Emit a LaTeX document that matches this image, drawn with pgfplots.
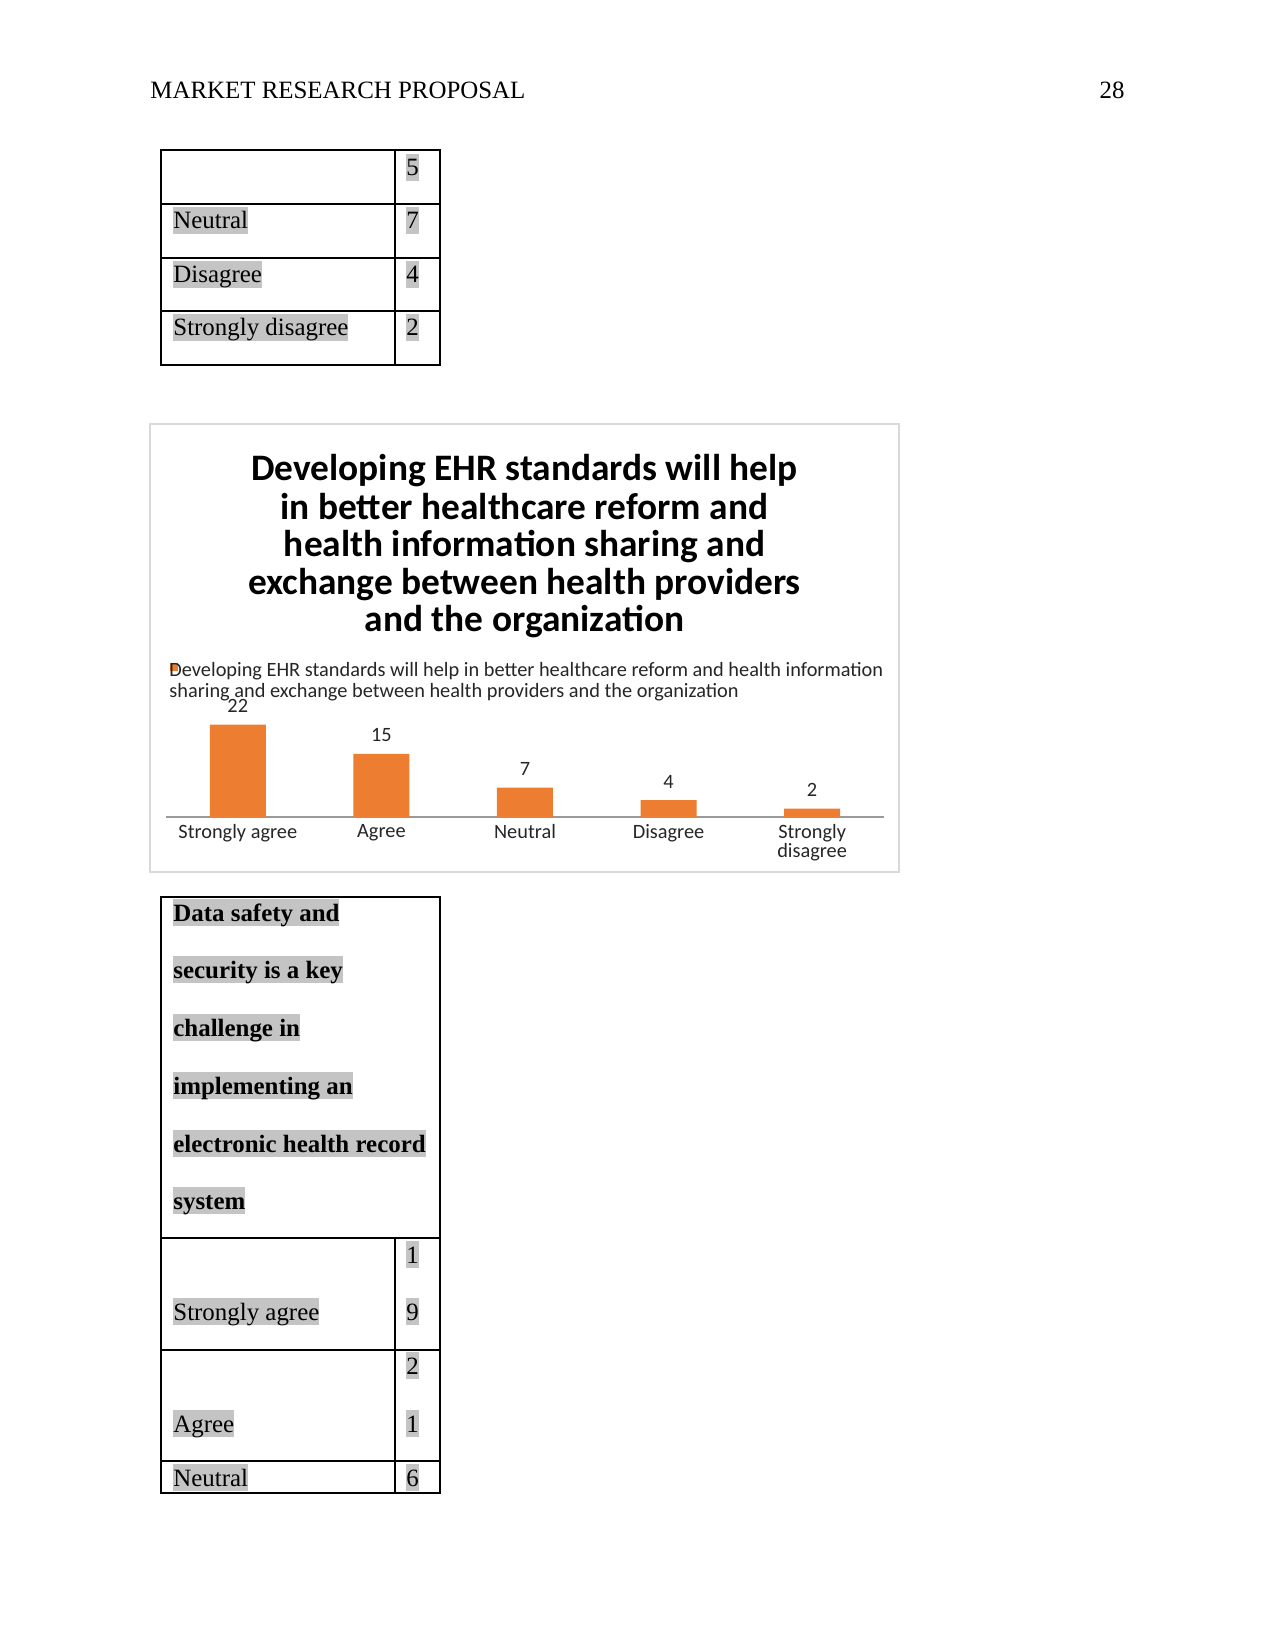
\documentclass[border=0pt]{standalone}
\usepackage{pgfplots}
\pgfplotsset{compat=1.18}
\usepackage{fontspec}
\setmainfont{Liberation Serif}
\newfontfamily\carlito{Carlito}
\definecolor{barorange}{HTML}{ED7D31}
\definecolor{hlgray}{HTML}{C4C4C4}
\definecolor{framegray}{HTML}{D9D9D9}
\definecolor{axgray}{HTML}{9A9A9A}
\definecolor{txt}{HTML}{262626}
\newcommand{\hl}[3]{\node[fill=hlgray,inner sep=0pt,text height=10.7pt,text depth=2.6pt,anchor=base west,font=\fontsize{12}{14}\selectfont] at (#1,#2) {#3};}
\newcommand{\hlb}[3]{\node[fill=hlgray,inner sep=0pt,text height=10.7pt,text depth=2.6pt,anchor=base west,font=\fontsize{12}{14}\selectfont\bfseries] at (#1,#2) {#3};}
\begin{document}
\begin{tikzpicture}[x=0.4818pt,y=-0.4818pt]
\path[fill=white] (0,0) rectangle (1275,1650);
% header
\node[anchor=base west,inner sep=0pt,font=\fontsize{12}{14}\selectfont] at (150,99) {MARKET RESEARCH PROPOSAL};
\node[anchor=base east,inner sep=0pt,font=\fontsize{12}{14}\selectfont] at (1125,99) {28};
% top table
\draw[line width=0.6pt] (161,150) rectangle (440,365);
\draw[line width=0.6pt] (395,150) -- (395,365);
\draw[line width=0.6pt] (161,204) -- (440,204) (161,258) -- (440,258) (161,311) -- (440,311);
\hl{406}{176}{5}
\hl{173}{229}{Neutral}
\hl{406}{229}{7}
\hl{173}{283}{Disagree}
\hl{406}{283}{4}
\hl{173}{336}{Strongly disagree}
\hl{406}{336}{2}
% chart frame
\draw[framegray,line width=1pt] (150,424) rectangle (899,872);
\foreach \t/\yy in {{Developing EHR standards will help}/481,{in better healthcare reform and}/519,{health information sharing and}/556,{exchange between health providers}/594,{and the organization}/631}{
  \node[anchor=base,inner sep=0pt,font=\carlito\bfseries\fontsize{18}{19}\selectfont] at (524.5,\yy) {\t};
}
\fill[barorange] (170,663) rectangle (178,671);
\node[anchor=base west,inner sep=0pt,font=\carlito\fontsize{9.8}{11}\selectfont,text=txt] at (169,676) {Developing EHR standards will help in better healthcare reform and health information};
\node[anchor=base west,inner sep=0pt,font=\carlito\fontsize{9.8}{11}\selectfont,text=txt] at (169,697) {sharing and exchange between health providers and the organization};
\coordinate (chartorigin) at (166,817);
\begin{axis}[
  at={(chartorigin)}, anchor=south west,
  scale only axis, width=345.9pt, height=50.6pt,
  xmin=-0.5, xmax=4.5, ymin=0, ymax=25,
  axis x line=bottom, axis y line=none,
  axis line style={-,axgray,line width=0.6pt},
  xtick={0,1,2,3,4},
  xticklabels={Strongly agree,Agree,Neutral,Disagree,{Strongly\\disagree}},
  xticklabel style={font=\carlito\fontsize{9.8}{9.2}\selectfont,text=txt,align=center,anchor=north,inner sep=0pt,yshift=-3.4pt},
  major tick length=0pt,
  ytick=\empty,
  ybar, bar width=27pt, bar shift=0pt,
  /pgf/number format/assume math mode=true,
  nodes near coords,
  every node near coord/.style={anchor=base,inner sep=0pt,yshift=5.8pt,font=\carlito\fontsize{9.8}{11}\selectfont,text=txt},
  clip=false,
]
\addplot[fill=barorange,draw=none] coordinates {(0,22) (1,15) (2,7) (3,4) (4,2)};
\end{axis}
% bottom table
\draw[line width=0.6pt] (161,897) rectangle (440,1493);
\draw[line width=0.6pt] (161,1238) -- (440,1238) (161,1350) -- (440,1350);
\draw[line width=1.1pt] (161,1461) -- (440,1461);
\draw[line width=0.6pt] (395,1238) -- (395,1493);
\hlb{173}{921}{Data safety and}
\hlb{173}{978}{security is a key}
\hlb{173}{1036}{challenge in}
\hlb{173}{1094}{implementing an}
\hlb{173}{1152}{electronic health record}
\hlb{173}{1209}{system}
\hl{406}{1263}{1}
\hl{173}{1320}{Strongly agree}
\hl{406}{1320}{9}
\hl{406}{1374}{2}
\hl{173}{1432}{Agree}
\hl{406}{1432}{1}
\hl{173}{1486}{Neutral}
\hl{406}{1486}{6}
\end{tikzpicture}
\end{document}
